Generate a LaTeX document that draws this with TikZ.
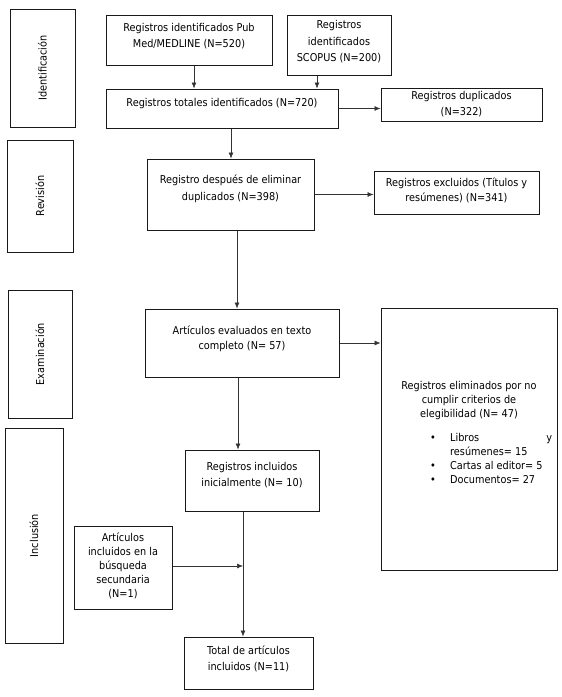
\documentclass[tikz,border=0pt]{standalone}
\usepackage{fontspec}
\setmainfont{DejaVu Sans}[FakeStretch=0.9]
\usetikzlibrary{arrows.meta,calc}
\newcommand{\fsA}{\fontsize{10.8}{16.5}\selectfont}
\newcommand{\fsB}{\fontsize{10.8}{15}\selectfont}
\newcommand{\fsC}{\fontsize{10.8}{14}\selectfont}
\begin{document}
\begin{tikzpicture}[x=1pt,y=-1pt,
  box/.style={draw=black!90, line width=1pt, inner sep=0pt, fill=white},
  txt/.style={inner sep=0pt, align=center, text=black},
  arr/.style={draw=black!80, line width=0.6pt, -{Latex[length=6pt,width=5pt]}},
  ln/.style={draw=black!80, line width=0.6pt}]
\useasboundingbox (0,0) rectangle (562,697);

% stage labels
\node[box, minimum width=65pt, minimum height=118pt] (idL) at (42.5,68) {};
\node[txt, font=\fsB, rotate=90] (idT) at (idL) {Identificación};
\node[box, minimum width=66pt, minimum height=112pt] (revL) at (40,196) {};
\node[txt, font=\fsB, rotate=90] (revT) at (revL) {Revisión};
\node[box, minimum width=64pt, minimum height=128pt] (exaL) at (40,354) {};
\node[txt, font=\fsB, rotate=90] (exaT) at (exaL) {Examinación};
\node[box, minimum width=58pt, minimum height=215pt] (incL) at (34,535.5) {};
\node[txt, font=\fsB, rotate=90] (incT) at (incL) {Inclusión};

% identification
\node[box, minimum width=166pt, minimum height=50pt] (pub) at (189,40) {};
\node[txt, font=\fsA] (pubT) at (189,36) {Registros identificados Pub\\Med/MEDLINE (N=520)};
\node[box, minimum width=104pt, minimum height=60pt] (sco) at (339,45) {};
\node[txt, font=\fsA] (scoT) at (339,42) {Registros\\identificados\\SCOPUS (N=200)};
\node[box, minimum width=232pt, minimum height=39pt] (tot) at (222,108.5) {};
\node[txt, font=\fsA] (totT) at (222,104) {Registros totales identificados (N=720)};
\node[box, minimum width=161pt, minimum height=33pt] (dup) at (461.5,104.5) {};
\node[txt, font=\fsA] (dupT) at (461.5,104) {Registros duplicados\\(N=322)};

% screening
\node[box, minimum width=167pt, minimum height=71pt] (desp) at (230.5,194.5) {};
\node[txt, font=\fsA] (despT) at (230.5,189) {Registro después de eliminar\\duplicados (N=398)};
\node[box, minimum width=165pt, minimum height=43pt] (exc) at (456.5,192.5) {};
\node[txt, font=\fsB] (excT) at (456.5,190.5) {Registros excluidos (Títulos y\\resúmenes) (N=341)};

% eligibility
\node[box, minimum width=194pt, minimum height=68pt] (art) at (242,343) {};
\node[txt, font=\fsB] (artT) at (242,338.5) {Artículos evaluados en texto\\completo (N= 57)};
\node[box, minimum width=176pt, minimum height=262pt] (elim) at (469,439) {};
\node[txt, font=\fsC] (elimT) at (469,401) {Registros eliminados por no\\cumplir criterios de\\elegibilidad (N= 47)};
\node[txt, font=\fsC, align=left, anchor=west] (elimL) at (430,458)
  {\makebox[20pt][l]{•}\makebox[102pt][s]{Libros\hfill y}\\
   \hspace*{20pt}resúmenes= 15\\
   \makebox[20pt][l]{•}Cartas al editor= 5\\
   \makebox[20pt][l]{•}Documentos= 27};

% inclusion
\node[box, minimum width=134pt, minimum height=61pt] (ini) at (252,480.5) {};
\node[txt, font=\fsA] (iniT) at (252,475) {Registros incluidos\\inicialmente (N= 10)};
\node[box, minimum width=98pt, minimum height=83pt] (sec) at (123,567.5) {};
\node[txt, font=\fsC] (secT) at (123,566) {Artículos\\incluidos en la\\búsqueda\\secundaria\\(N=1)};
\node[box, minimum width=129pt, minimum height=52pt] (fin) at (248.5,663) {};
\node[txt, font=\fsA] (finT) at (248.5,659) {Total de artículos\\incluidos (N=11)};

% column coordinates
\coordinate (cPub) at (194,0);
\coordinate (cSco) at (317,0);
\coordinate (c1) at (231,0);
\coordinate (c2) at (237,0);
\coordinate (c3) at (238,0);
\coordinate (c4) at (243,0);
\coordinate (jn) at (243,566);

% connectors
\draw[arr] (pub.south -| cPub) -- (tot.north -| cPub);
\draw[arr] (sco.south -| cSco) -- (tot.north -| cSco);
\draw[arr] (tot.east) -- (dup.west |- tot.east);
\draw[arr] (tot.south -| c1) -- (desp.north -| c1);
\draw[arr] (desp.east) -- (exc.west |- desp.east);
\draw[arr] (desp.south -| c2) -- (art.north -| c2);
\draw[arr] (art.east) -- (elim.west |- art.east);
\draw[arr] (art.south -| c3) -- (ini.north -| c3);
\draw[arr] (ini.south -| c4) -- (fin.north -| c4);
\draw[arr] (sec.east |- jn) -- (jn);
\end{tikzpicture}
\end{document}
